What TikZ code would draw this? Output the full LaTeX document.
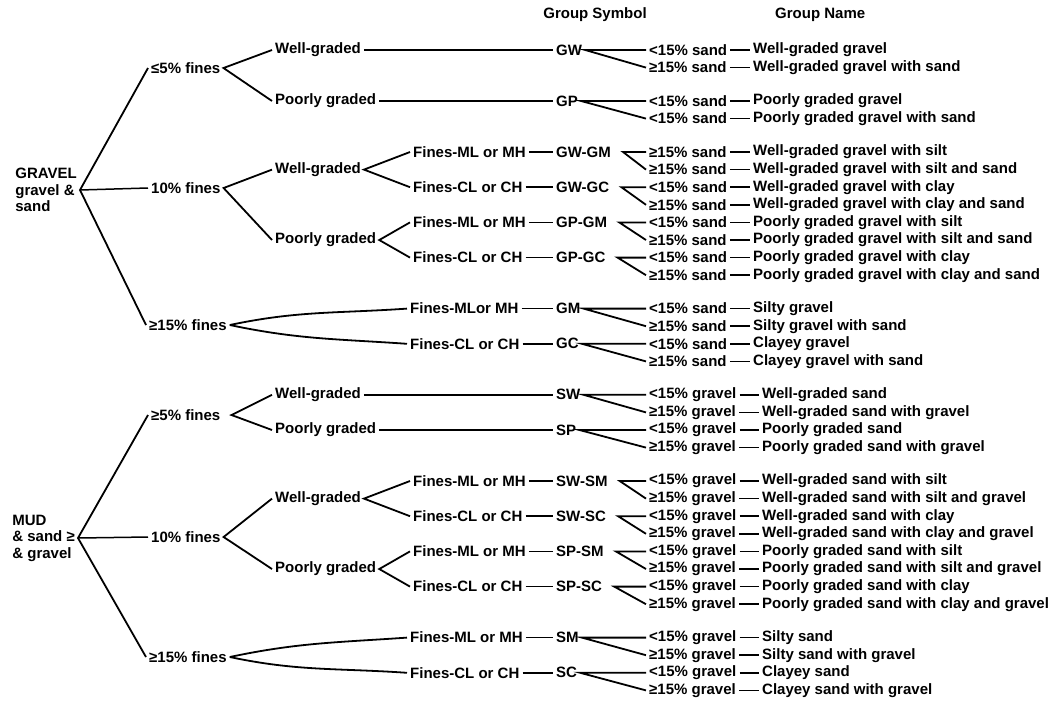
\documentclass[tikz,border=0pt]{standalone}
\usepackage{fontspec}
\setmainfont{Liberation Sans}
\begin{document}
\begin{tikzpicture}[x=1pt, y=-1pt,
    font=\fontsize{15}{16.5}\selectfont\bfseries,
    txt/.style={anchor=west, inner xsep=3pt, inner ysep=1pt},
    rootbox/.style={anchor=east, align=left, inner xsep=3pt, inner ysep=1pt},
    branch/.style={line width=1.8pt},
    tie/.style={line width=1.5pt}]

  \useasboundingbox (0,0) rectangle (1062,705);

  % Column headings
  \node (hsym) at (595,15) {Group Symbol};
  \node[txt] (hname) at (772,15) {Group Name};

  % 1. Right columns: sand / gravel content and group names
  \foreach \i/\yy/\cnd/\nam in {
      1/50/{<15\% sand}/{Well-graded gravel},
      2/67.6/{≥15\% sand}/{Well-graded gravel with sand},
      3/101/{<15\% sand}/{Poorly graded gravel},
      4/118.6/{<15\% sand}/{Poorly graded gravel with sand},
      5/152/{≥15\% sand}/{Well-graded gravel with silt},
      6/169.6/{≥15\% sand}/{Well-graded gravel with silt and sand},
      7/187.2/{<15\% sand}/{Well-graded gravel with clay},
      8/204.8/{≥15\% sand}/{Well-graded gravel with clay and sand},
      9/222.4/{<15\% sand}/{Poorly graded gravel with silt},
      10/240/{≥15\% sand}/{Poorly graded gravel with silt and sand},
      11/257.6/{<15\% sand}/{Poorly graded gravel with clay},
      12/275.2/{≥15\% sand}/{Poorly graded gravel with clay and sand},
      13/308.6/{<15\% sand}/{Silty gravel},
      14/326.2/{≥15\% sand}/{Silty gravel with sand},
      15/343.8/{<15\% sand}/{Clayey gravel},
      16/361.4/{≥15\% sand}/{Clayey gravel with sand}}{
    \node[txt] (c\i) at (646,\yy) {\cnd};
    \node[txt] (n\i) at (750,\yy) {\nam};
    \draw[tie] (c\i) -- (n\i);
  }
  \foreach \i/\yy/\cnd/\nam in {
      17/394.8/{<15\% gravel}/{Well-graded sand},
      18/412.4/{≥15\% gravel}/{Well-graded sand with gravel},
      19/430/{<15\% gravel}/{Poorly graded sand},
      20/447.6/{≥15\% gravel}/{Poorly graded sand with gravel},
      21/481/{<15\% gravel}/{Well-graded sand with silt},
      22/498.6/{≥15\% gravel}/{Well-graded sand with silt and gravel},
      23/516.2/{<15\% gravel}/{Well-graded sand with clay},
      24/533.8/{≥15\% gravel}/{Well-graded sand with clay and gravel},
      25/551.4/{<15\% gravel}/{Poorly graded sand with silt},
      26/569/{≥15\% gravel}/{Poorly graded sand with silt and gravel},
      27/586.6/{<15\% gravel}/{Poorly graded sand with clay},
      28/604.2/{≥15\% gravel}/{Poorly graded sand with clay and gravel},
      29/637.6/{<15\% gravel}/{Silty sand},
      30/655.2/{≥15\% gravel}/{Silty sand with gravel},
      31/672.8/{<15\% gravel}/{Clayey sand},
      32/690.4/{≥15\% gravel}/{Clayey sand with gravel}}{
    \node[txt] (c\i) at (646,\yy) {\cnd};
    \node[txt] (n\i) at (759,\yy) {\nam};
    \draw[tie] (c\i) -- (n\i);
  }

  % 2. Group symbols
  \node[txt] (GW)   at (553,50)    {GW};
  \node[txt] (GP)   at (553,101)   {GP};
  \node[txt] (GWGM) at (553,152)   {GW-GM};
  \node[txt] (GWGC) at (553,187.2) {GW-GC};
  \node[txt] (GPGM) at (553,222.4) {GP-GM};
  \node[txt] (GPGC) at (553,257.6) {GP-GC};
  \node[txt] (GM)   at (553,308.6) {GM};
  \node[txt] (GC)   at (553,343.8) {GC};
  \node[txt] (SW)   at (553,394.8) {SW};
  \node[txt] (SP)   at (553,430)   {SP};
  \node[txt] (SWSM) at (553,481)   {SW-SM};
  \node[txt] (SWSC) at (553,516.2) {SW-SC};
  \node[txt] (SPSM) at (553,551.4) {SP-SM};
  \node[txt] (SPSC) at (553,586.6) {SP-SC};
  \node[txt] (SM)   at (553,637.6) {SM};
  \node[txt] (SC)   at (553,672.8) {SC};

  % forks from the group symbols
  \draw[branch] (c1.west) -- (GW.east) -- (c2.west);
  \draw[branch] (c3.west) -- (GP.east) -- (c4.west);
  \draw[branch] (c5.west) -- ([xshift=9pt]GWGM.east) -- (c6.west);
  \draw[branch] (c7.west) -- ([xshift=9pt]GWGC.east) -- (c8.west);
  \draw[branch] (c9.west) -- ([xshift=9pt]GPGM.east) -- (c10.west);
  \draw[branch] (c11.west) -- ([xshift=9pt]GPGC.east) -- (c12.west);
  \draw[branch] (c13.west) -- (GM.east) -- (c14.west);
  \draw[branch] (c15.west) -- (GC.east) -- (c16.west);
  \draw[branch] (c17.west) -- (SW.east) -- (c18.west);
  \draw[branch] (c19.west) -- (SP.east) -- (c20.west);
  \draw[branch] (c21.west) -- ([xshift=9pt]SWSM.east) -- (c22.west);
  \draw[branch] (c23.west) -- ([xshift=9pt]SWSC.east) -- (c24.west);
  \draw[branch] (c25.west) -- ([xshift=9pt]SPSM.east) -- (c26.west);
  \draw[branch] (c27.west) -- ([xshift=9pt]SPSC.east) -- (c28.west);
  \draw[branch] (c29.west) -- (SM.east) -- (c30.west);
  \draw[branch] (c31.west) -- (SC.east) -- (c32.west);

  % 3. GRAVEL tree
  \node[rootbox] (rootG) at (80,190) {GRAVEL\\gravel \&\\sand};
  \node[txt] (g5)  at (148,68)  {≤5\% fines};
  \node[txt] (g10) at (148,188) {10\% fines};
  \node[txt] (g15) at (146,325) {≥15\% fines};
  \draw[branch] (g5.west) -- (rootG.east) -- (g15.west);
  \draw[tie] (rootG.east) -- (g10.west);

  % ≤5% fines
  \node[txt] (gwg1) at (272,50)  {Well-graded};
  \node[txt] (gpg1) at (272,101) {Poorly graded};
  \draw[branch] (gwg1.west) -- (g5.east) -- (gpg1.west);
  \draw[tie] (gwg1) -- (GW);
  \draw[tie] (gpg1) -- (GP);

  % 10% fines
  \node[txt] (gwg2) at (272,169.6) {Well-graded};
  \node[txt] (gpg2) at (272,240)   {Poorly graded};
  \draw[branch] (gwg2.west) -- (g10.east) -- (gpg2.west);
  \node[txt] (gml1) at (410,152)   {Fines-ML or MH};
  \node[txt] (gcl1) at (410,187.2) {Fines-CL or CH};
  \node[txt] (gml2) at (410,222.4) {Fines-ML or MH};
  \node[txt] (gcl2) at (410,257.6) {Fines-CL or CH};
  \draw[branch] (gml1.west) -- (gwg2.east) -- (gcl1.west);
  \draw[branch] (gml2.west) -- (gpg2.east) -- (gcl2.west);
  \draw[tie] (gml1) -- (GWGM);
  \draw[tie] (gcl1) -- (GWGC);
  \draw[tie] (gml2) -- (GPGM);
  \draw[tie] (gcl2) -- (GPGC);

  % ≥15% fines
  \node[txt] (gml3) at (407,308.6) {Fines-MLor MH};
  \node[txt] (gcl3) at (407,343.8) {Fines-CL or CH};
  \draw[branch] (g15.east) to[out=12,in=184] (gml3.west);
  \draw[branch] (g15.east) to[out=-12,in=176] (gcl3.west);
  \draw[tie] (gml3) -- (GM);
  \draw[tie] (gcl3) -- (GC);

  % 4. MUD tree
  \node[rootbox] (rootS) at (78,538) {MUD\\\& sand ≥\\\& gravel};
  \node[txt] (s5)  at (148,415) {≥5\% fines};
  \node[txt] (s10) at (148,537) {10\% fines};
  \node[txt] (s15) at (146,657) {≥15\% fines};
  \draw[branch] (s5.west) -- (rootS.east) -- (s15.west);
  \draw[tie] (rootS.east) -- (s10.west);

  % ≥5% fines
  \node[txt] (swg1) at (272,394.8) {Well-graded};
  \node[txt] (spg1) at (272,430)   {Poorly graded};
  \draw[branch] (swg1.west) -- ([xshift=8pt]s5.east) -- (spg1.west);
  \draw[tie] (swg1) -- (SW);
  \draw[tie] (spg1) -- (SP);

  % 10% fines
  \node[txt] (swg2) at (272,498.6) {Well-graded};
  \node[txt] (spg2) at (272,569)   {Poorly graded};
  \draw[branch] (swg2.west) -- (s10.east) -- (spg2.west);
  \node[txt] (sml1) at (410,481)   {Fines-ML or MH};
  \node[txt] (scl1) at (410,516.2) {Fines-CL or CH};
  \node[txt] (sml2) at (410,551.4) {Fines-ML or MH};
  \node[txt] (scl2) at (410,586.6) {Fines-CL or CH};
  \draw[branch] (sml1.west) -- (swg2.east) -- (scl1.west);
  \draw[branch] (sml2.west) -- (spg2.east) -- (scl2.west);
  \draw[tie] (sml1) -- (SWSM);
  \draw[tie] (scl1) -- (SWSC);
  \draw[tie] (sml2) -- (SPSM);
  \draw[tie] (scl2) -- (SPSC);

  % ≥15% fines
  \node[txt] (sml3) at (407,637.6) {Fines-ML or MH};
  \node[txt] (scl3) at (407,672.8) {Fines-CL or CH};
  \draw[branch] (s15.east) to[out=12,in=184] (sml3.west);
  \draw[branch] (s15.east) to[out=-12,in=176] (scl3.west);
  \draw[tie] (sml3) -- (SM);
  \draw[tie] (scl3) -- (SC);
\end{tikzpicture}
\end{document}
